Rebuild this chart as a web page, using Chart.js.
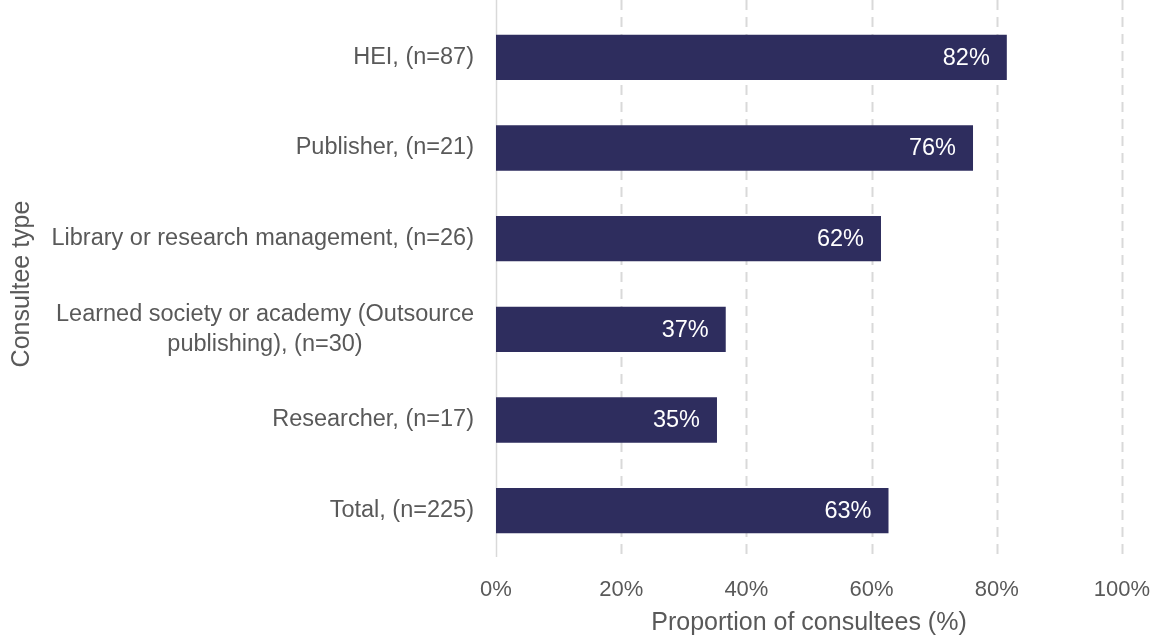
<!DOCTYPE html>
<html>
<head>
<meta charset="utf-8">
<script src="https://cdn.jsdelivr.net/npm/chart.js@4.4.1/dist/chart.umd.min.js"></script>
<style>
  body { margin: 0; background: #fff; }
  #wrap { width: 1159px; height: 638px; }
</style>
</head>
<body>
<div id="wrap"><canvas id="myChart" width="1159" height="638"></canvas></div>
<script>
const ctx = document.getElementById('myChart').getContext('2d');

const categories = [
  ['HEI, (n=87)'],
  ['Publisher, (n=21)'],
  ['Library or research management, (n=26)'],
  ['Learned society or academy (Outsource', 'publishing), (n=30)'],
  ['Researcher, (n=17)'],
  ['Total, (n=225)']
];
const proportions = [81.6, 76.2, 61.5, 36.7, 35.3, 62.7];
const xTicks = [0, 20, 40, 60, 80, 100];

const barColor = '#2e2d5e';
const textColor = '#595959';
const gridColor = '#d9d9d9';
const fontFamily = '"Liberation Sans", Arial, sans-serif';

// dashed grid that runs to the top edge, plus the solid zero line
const gridPlugin = {
  id: 'gridPlugin',
  beforeDatasetsDraw(chart) {
    const c = chart.ctx;
    const x = chart.scales.x;
    const bottom = chart.chartArea.bottom + 1;
    c.save();
    c.strokeStyle = gridColor;
    xTicks.forEach(v => {
      const px = Math.round(x.getPixelForValue(v)) + 0.5;
      c.beginPath();
      if (v === 0) {
        c.setLineDash([]);
        c.lineWidth = 1.5;
      } else {
        c.setLineDash([10, 7]);
        c.lineWidth = 2;
      }
      c.moveTo(px, 0);
      c.lineTo(px, bottom);
      c.stroke();
    });
    c.restore();
  }
};

// category labels: block right-aligned, lines centred inside the block
const labelPlugin = {
  id: 'labelPlugin',
  afterDraw(chart) {
    const c = chart.ctx;
    const y = chart.scales.y;
    const right = chart.chartArea.left - 22;
    const lineHeight = 30;
    c.save();
    c.font = '23.5px ' + fontFamily;
    c.fillStyle = textColor;
    c.textAlign = 'center';
    c.textBaseline = 'middle';
    categories.forEach((lines, i) => {
      const width = Math.max(...lines.map(l => c.measureText(l).width));
      const cx = right - width / 2;
      const cy = y.getPixelForValue(i);
      const top = cy - (lines.length - 1) * lineHeight / 2;
      lines.forEach((l, j) => c.fillText(l, cx, top + j * lineHeight));
    });
    c.restore();
  }
};

// value labels inside bar end
const valuePlugin = {
  id: 'valuePlugin',
  afterDatasetsDraw(chart) {
    const c = chart.ctx;
    const meta = chart.getDatasetMeta(0);
    c.save();
    c.font = '23.5px ' + fontFamily;
    c.fillStyle = '#ffffff';
    c.textAlign = 'right';
    c.textBaseline = 'middle';
    meta.data.forEach((bar, i) => {
      c.fillText(Math.round(proportions[i]) + '%', bar.x - 17, bar.y + 1);
    });
    c.restore();
  }
};

const myChart = new Chart(ctx, {
  type: 'bar',
  data: {
    labels: categories.map(l => l.join(' ')),
    datasets: [{
      label: 'Proportion',
      data: proportions,
      backgroundColor: barColor,
      borderWidth: 0,
      barPercentage: 0.5,
      categoryPercentage: 1
    }]
  },
  options: {
    indexAxis: 'y',
    responsive: false,
    animation: false,
    layout: { padding: { top: 12, right: 37, left: 0, bottom: 0 } },
    plugins: {
      legend: { display: false },
      tooltip: { enabled: false }
    },
    scales: {
      x: {
        min: 0,
        max: 100,
        afterFit(scale) {
          scale.height = 82;
          scale.paddingLeft = 0;
          scale.paddingRight = 0;
        },
        grid: { display: false, drawTicks: false },
        border: { display: false },
        ticks: {
          stepSize: 20,
          padding: 21,
          maxRotation: 0,
          color: textColor,
          font: { family: fontFamily, size: 22 },
          callback: v => v + '%'
        },
        title: {
          display: true,
          text: 'Proportion of consultees (%)',
          color: textColor,
          font: { family: fontFamily, size: 25, lineHeight: 1.2 },
          padding: { top: 0, bottom: 0 }
        }
      },
      y: {
        afterFit(scale) { scale.width = 496; },
        grid: { display: false, drawTicks: false },
        border: { display: false },
        ticks: { display: false },
        title: {
          display: true,
          text: 'Consultee type',
          color: textColor,
          font: { family: fontFamily, size: 25, lineHeight: 1.2 },
          padding: { top: 7, bottom: 0 }
        }
      }
    }
  },
  plugins: [gridPlugin, labelPlugin, valuePlugin]
});
</script>
</body>
</html>
